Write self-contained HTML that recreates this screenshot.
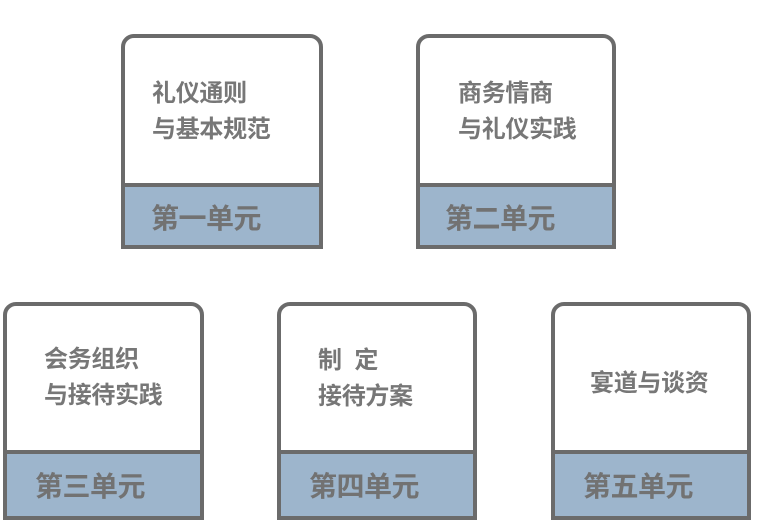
<!DOCTYPE html>
<html><head><meta charset="utf-8"><style>
body{margin:0;width:760px;height:520px;background:#fff;position:relative;overflow:hidden;font-family:"Liberation Sans","Noto Sans CJK SC",sans-serif;}
.b{position:absolute;box-sizing:border-box;border:4px solid #6b6b6b;border-radius:13px 13px 0 0;background:#fff;}
.f{position:absolute;left:0;right:0;bottom:0;background:#9db5cc;border-top:4px solid #6b6b6b;}
.t{position:absolute;font-size:24px;font-weight:bold;color:#777;line-height:36px;white-space:nowrap;letter-spacing:-0.3px;}
.h{position:absolute;font-size:28px;font-weight:bold;color:#727272;line-height:30px;white-space:nowrap;letter-spacing:-0.5px;}
</style></head><body>
<div class="b" style="left:121px;top:34px;width:202px;height:215px"><div class="f" style="top:145px"></div></div>
<div class="t" style="left:152px;top:76px">礼仪通则<br>与基本规范</div>
<div class="h" style="left:151px;top:204px">第一单元</div>

<div class="b" style="left:416px;top:34px;width:200px;height:215px"><div class="f" style="top:145px"></div></div>
<div class="t" style="left:458px;top:76px">商务情商<br>与礼仪实践</div>
<div class="h" style="left:445px;top:204px">第二单元</div>

<div class="b" style="left:3px;top:302px;width:201px;height:218px"><div class="f" style="top:144px"></div></div>
<div class="t" style="left:44px;top:342px">会务组织<br>与接待实践</div>
<div class="h" style="left:35px;top:472px">第三单元</div>

<div class="b" style="left:277px;top:302px;width:200px;height:218px"><div class="f" style="top:144px"></div></div>
<div class="t" style="left:318px;top:343px">制&nbsp;&nbsp;定<br>接待方案</div>
<div class="h" style="left:309px;top:472px">第四单元</div>

<div class="b" style="left:551px;top:302px;width:200px;height:218px"><div class="f" style="top:144px"></div></div>
<div class="t" style="left:590px;top:366px">宴道与谈资</div>
<div class="h" style="left:583px;top:472px">第五单元</div>
</body></html>
